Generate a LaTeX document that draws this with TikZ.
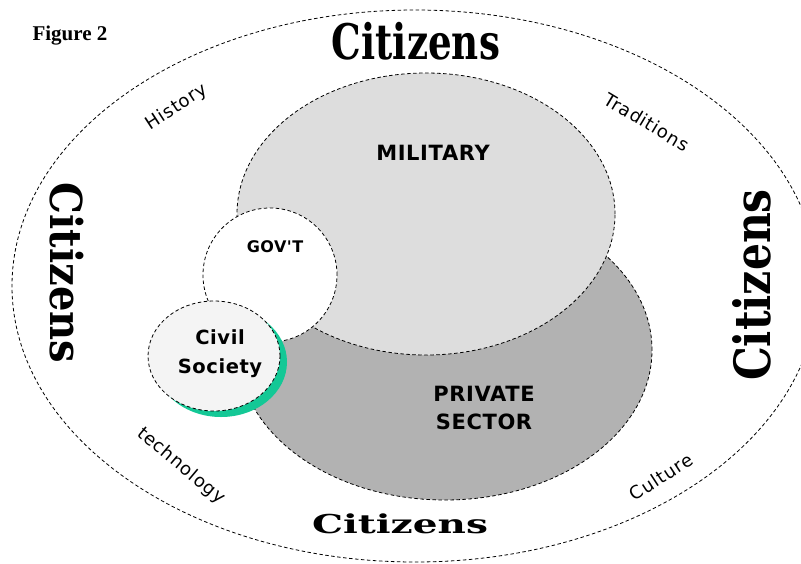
\documentclass[tikz,border=0pt]{standalone}
\usepackage{fontspec}
\setmainfont{DejaVu Sans}
\newfontfamily\citfont{DejaVu Serif}
\newfontfamily\figfont{Liberation Serif}
\newfontfamily\trackfont{DejaVu Sans}[LetterSpace=3]
\newfontfamily\smalltrackfont{DejaVu Sans}[LetterSpace=5]
\usetikzlibrary{shapes.geometric}
\definecolor{milgray}{RGB}{221,221,221}
\definecolor{privgray}{RGB}{178,178,178}
\definecolor{civfill}{RGB}{244,244,244}
\definecolor{shadowgreen}{RGB}{20,200,150}
\tikzset{
  dashline/.style={draw=black, line width=0.8pt, dash pattern=on 3.5pt off 2.5pt},
  blob/.style={ellipse, inner sep=0pt, dashline},
  biglabel/.style={font=\trackfont\bfseries\fontsize{21}{28}\selectfont, align=center, inner sep=0pt},
  smalllabel/.style={font=\smalltrackfont\fontsize{18}{20}\selectfont, inner sep=0pt},
  citlabel/.style={font=\citfont\bfseries, inner sep=0pt},
}
\begin{document}
\begin{tikzpicture}[x=1pt,y=-1pt]
\useasboundingbox (0,0) rectangle (801,563);
\fill[white] (0,0) rectangle (801,563);
\node[blob, minimum width=806pt, minimum height=552pt] (outer) at (415,286) {};
\node[blob, fill=privgray, minimum width=414pt, minimum height=300pt] (private) at (445,350) {};
\node[blob, fill=milgray, minimum width=378pt, minimum height=282pt] (military) at (426,214) {};
\node[blob, circle, fill=white, minimum size=134pt] (govt) at (270,275) {};
\node[ellipse, fill=shadowgreen, minimum width=132pt, minimum height=110pt, inner sep=0pt] (shadow) at (221,362) {};
\node[blob, fill=civfill, minimum width=132pt, minimum height=110pt] (civil) at (214,356) {};

\node[biglabel] (miltext) at (433,153) {MILITARY};
\node[biglabel] (privtext) at (484,408) {PRIVATE\\SECTOR};
\node[biglabel, font=\trackfont\bfseries\fontsize{16}{20}\selectfont] (govtext) at (275,247) {GOV'T};
\node[biglabel, font=\trackfont\bfseries\fontsize{19.5}{29}\selectfont] (civtext) at (220,354) {Civil\\Society};

\node[citlabel] (cittop) at (416,41) {\scalebox{0.76}[1]{\fontsize{49}{49}\selectfont Citizens}};
\node[citlabel] (citbot) at (400,524) {\scalebox{1.5}[1]{\fontsize{26}{26}\selectfont Citizens}};
\node[citlabel, rotate=-90] (citleft) at (67,273) {\scalebox{0.91}[1]{\fontsize{44}{44}\selectfont Citizens}};
\node[citlabel, rotate=90] (citright) at (752,285) {\scalebox{0.85}[1]{\fontsize{50}{50}\selectfont Citizens}};

\node[font=\figfont\bfseries\fontsize{21}{21}\selectfont, inner sep=0pt] (fig) at (70,36) {Figure 2};

\node[smalllabel, rotate=33] (hist) at (177,107) {History};
\node[smalllabel, rotate=-31] (trad) at (647,122) {Traditions};
\node[smalllabel, rotate=-40] (tech) at (181,466) {technology};
\node[smalllabel, rotate=33] (cult) at (661,477) {Culture};
\end{tikzpicture}
\end{document}
